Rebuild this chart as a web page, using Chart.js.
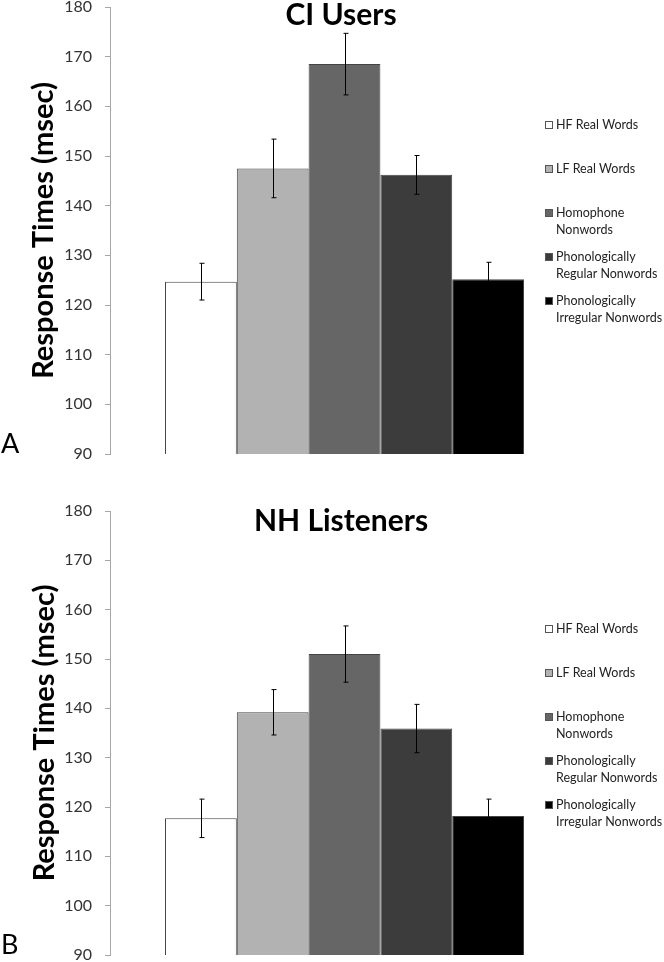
<!DOCTYPE html>
<html>
<head>
<meta charset="utf-8">
<script src="https://cdn.jsdelivr.net/npm/chart.js@4"></script>
<style>
  html, body { margin: 0; padding: 0; background: #fff; }
  .panel { position: relative; width: 664px; height: 481px; }
</style>
</head>
<body>
<div class="panel"><canvas id="chartA" width="664" height="481"></canvas></div>
<div class="panel"><canvas id="chartB" width="664" height="481"></canvas></div>
<script>
// series (one bar each)
const seriesNames = ['HF Real Words', 'LF Real Words', 'Homophone Nonwords',
  'Phonologically Regular Nonwords', 'Phonologically Irregular Nonwords'];
const legendLines = [['HF Real Words'], ['LF Real Words'], ['Homophone', 'Nonwords'],
  ['Phonologically', 'Regular Nonwords'], ['Phonologically', 'Irregular Nonwords']];
const seriesColors = ['#ffffff', '#b2b2b2', '#666666', '#3c3c3c', '#000000'];

// CI users (panel A)
const ciMeans = [124.7, 147.5, 168.5, 146.2, 125.2];
const ciErrors = [3.7, 5.9, 6.2, 3.9, 3.4];

// NH listeners (panel B)
const nhMeans = [117.7, 139.2, 151.0, 135.9, 118.2];
const nhErrors = [3.9, 4.6, 5.7, 4.9, 3.4];

const yMin = 90, yMax = 180, yStep = 10;

const FONT = 'Lato, "Open Sans", sans-serif';

// error bars + title + legend + labels drawn on top of the bars
const overlayPlugin = {
  id: 'overlay',
  afterDatasetsDraw(chart, args, opts) {
    const ctx = chart.ctx;
    const y = chart.scales.y;
    const area = chart.chartArea;
    ctx.save();

    // error bars
    ctx.strokeStyle = '#000';
    ctx.lineWidth = 1;
    opts.errors.forEach((err, i) => {
      const bar = chart.getDatasetMeta(i).data[0];
      const v = chart.data.datasets[i].data[0];
      const x = Math.round(bar.x) + 0.5;
      const top = y.getPixelForValue(v + err);
      const bot = y.getPixelForValue(v - err);
      ctx.beginPath();
      ctx.moveTo(x, top); ctx.lineTo(x, bot);
      ctx.moveTo(x - 2, top); ctx.lineTo(x + 3, top);
      ctx.moveTo(x - 2, bot); ctx.lineTo(x + 3, bot);
      ctx.stroke();
    });

    // chart title
    ctx.fillStyle = '#000';
    ctx.font = 'bold 30px ' + FONT;
    ctx.textAlign = 'center';
    ctx.textBaseline = 'middle';
    ctx.fillText(opts.title, 341, opts.titleY);

    // y axis title
    ctx.save();
    ctx.translate(opts.yTitleX, (area.top + area.bottom) / 2);
    ctx.rotate(-Math.PI / 2);
    ctx.font = 'bold 29px ' + FONT;
    ctx.fillText('Response Times (msec)', 0, 0);
    ctx.restore();

    // panel letter
    ctx.font = '27px ' + FONT;
    ctx.textAlign = 'left';
    ctx.textBaseline = 'alphabetic';
    ctx.fillText(opts.letter, 1, area.bottom - 1);

    // legend
    ctx.font = '12.5px ' + FONT;
    ctx.textBaseline = 'middle';
    legendLines.forEach((lines, i) => {
      const ly = area.top + 118 + 44 * i;
      ctx.fillStyle = seriesColors[i];
      ctx.fillRect(545.5, ly - 3.5, 7, 7);
      ctx.strokeStyle = '#555';
      ctx.strokeRect(545.5, ly - 3.5, 7, 7);
      ctx.fillStyle = '#222';
      lines.forEach((t, k) => ctx.fillText(t, 556, ly + 16.5 * k));
    });
    ctx.restore();
  }
};

function makeChart(id, means, errors, opts) {
  const datasets = seriesNames.map((name, i) => ({
    label: name,
    data: [means[i]],
    backgroundColor: seriesColors[i],
    borderColor: '#444',
    borderWidth: 1,
    borderSkipped: false,
    barPercentage: 1.0,
    categoryPercentage: 0.7655
  }));
  return new Chart(document.getElementById(id), {
    type: 'bar',
    data: { labels: [''], datasets },
    options: {
      responsive: false,
      animation: false,
      layout: { padding: { left: 0, right: 85, top: opts.padTop, bottom: opts.padBottom } },
      plugins: {
        legend: { display: false },
        tooltip: { enabled: false },
        overlay: Object.assign({ errors }, opts)
      },
      scales: {
        x: { display: false },
        y: {
          min: yMin, max: yMax,
          ticks: { stepSize: yStep, padding: 13, color: '#333', font: { family: FONT, size: 16 } },
          grid: { drawOnChartArea: false, drawTicks: true, tickLength: 5, color: '#a6a6a6' },
          border: { display: true, color: '#a6a6a6' },
          afterFit(scale) {
            scale.width = 110;
            scale.paddingTop = 0;
            scale.paddingBottom = 0;
          }
        }
      }
    },
    plugins: [overlayPlugin]
  });
}

makeChart('chartA', ciMeans, ciErrors,
  { padTop: 7, padBottom: 27, title: 'CI Users', titleY: 15, yTitleX: 44, letter: 'A' });
makeChart('chartB', nhMeans, nhErrors,
  { padTop: 30, padBottom: 7, title: 'NH Listeners', titleY: 40, yTitleX: 45, letter: 'B' });
</script>
</body>
</html>
